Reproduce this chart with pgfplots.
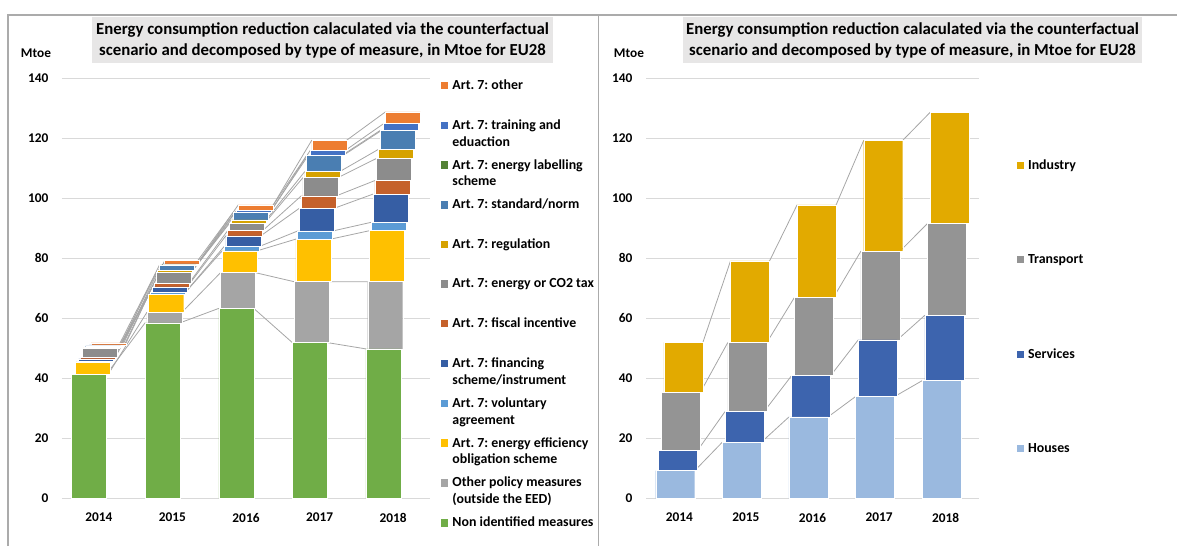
\documentclass[border=0pt]{standalone}
\usepackage{pgfplots}
\pgfplotsset{compat=1.18}
\usepackage{pgfplotstable}
\usepackage{fontspec}
\setmainfont{Carlito}

\definecolor{s0}{HTML}{70AD47}
\definecolor{s1}{HTML}{A5A5A5}
\definecolor{s2}{HTML}{FFC000}
\definecolor{s3}{HTML}{5B9BD5}
\definecolor{s4}{HTML}{365EA4}
\definecolor{s5}{HTML}{C5612B}
\definecolor{s6}{HTML}{8C8C8C}
\definecolor{s7}{HTML}{D6A200}
\definecolor{s8}{HTML}{4A7EB2}
\definecolor{s9}{HTML}{548235}
\definecolor{s10}{HTML}{4472C4}
\definecolor{s11}{HTML}{ED7D31}
\definecolor{r0}{HTML}{9AB9DF}
\definecolor{r1}{HTML}{3D64AE}
\definecolor{r2}{HTML}{949494}
\definecolor{r3}{HTML}{E2AA00}
\definecolor{gridc}{HTML}{D9D9D9}
\definecolor{connc}{HTML}{A6A6A6}
\definecolor{framec}{HTML}{ABABAB}
\definecolor{titlebg}{HTML}{E7E6E6}

% left chart: segment values (bottom to top)
\pgfplotstableread{
x s0 s1 s2 s3 s4 s5 s6 s7 s8 s9 s10 s11
0 41.4 0.0 4.0 0.3 0.8 0.5 2.9 0.3 0.6 0.1 0.2 0.7
1 58.5 3.5 6.0 0.7 1.8 1.2 3.5 0.7 1.8 0.1 0.3 1.1
2 63.3 11.9 7.3 1.4 3.6 1.7 2.4 1.2 2.4 0.1 0.6 1.9
3 51.9 20.3 14.2 2.7 7.6 4.1 6.1 2.0 5.3 0.1 1.6 3.5
4 49.8 22.4 17.0 2.8 9.4 4.5 7.4 3.0 6.3 0.1 2.2 3.9
}\leftdata

% left chart: series lines (cumulative tops)
\pgfplotstableread{
pos side c0 c1 c2 c3 c4 c5 c6 c7 c8 c9 c10 c11
0 1 41.4 41.4 45.4 45.7 46.5 47.0 49.9 50.2 50.8 50.9 51.1 51.8
1 -1 58.5 62.0 68.0 68.7 70.5 71.7 75.2 75.9 77.7 77.8 78.1 79.2
nan nan nan nan nan nan nan nan nan nan nan nan nan nan
1 1 58.5 62.0 68.0 68.7 70.5 71.7 75.2 75.9 77.7 77.8 78.1 79.2
2 -1 63.3 75.2 82.5 83.9 87.5 89.2 91.6 92.8 95.2 95.3 95.9 97.8
nan nan nan nan nan nan nan nan nan nan nan nan nan nan
2 1 63.3 75.2 82.5 83.9 87.5 89.2 91.6 92.8 95.2 95.3 95.9 97.8
3 -1 51.9 72.2 86.4 89.1 96.7 100.8 106.9 108.9 114.2 114.3 115.9 119.4
nan nan nan nan nan nan nan nan nan nan nan nan nan nan
3 1 51.9 72.2 86.4 89.1 96.7 100.8 106.9 108.9 114.2 114.3 115.9 119.4
4 -1 49.8 72.2 89.2 92.0 101.4 105.9 113.3 116.3 122.6 122.7 124.9 128.8
}\leftconn

% right chart: segment values
\pgfplotstableread{
x r0 r1 r2 r3
0 9.2 6.7 19.3 16.8
1 18.7 10.2 23.0 27.2
2 27.1 13.8 26.0 30.9
3 33.9 18.9 29.6 36.9
4 39.2 21.8 30.6 37.1
}\rightdata

\pgfplotstableread{
pos side c0 c1 c2 c3
0 1 9.2 15.9 35.2 52.0
1 -1 18.7 28.9 51.9 79.1
nan nan nan nan nan nan
1 1 18.7 28.9 51.9 79.1
2 -1 27.1 40.9 66.9 97.8
nan nan nan nan nan nan
2 1 27.1 40.9 66.9 97.8
3 -1 33.9 52.8 82.4 119.3
nan nan nan nan nan nan
3 1 33.9 52.8 82.4 119.3
4 -1 39.2 61.0 91.6 128.7
}\rightconn

\newcommand{\LL}[1]{\parbox[t]{118pt}{\raggedright #1}}
\newcommand{\RL}[1]{\parbox[t]{70pt}{\raggedright #1}}

\pgfplotsset{
  geomL/.style={scale only axis, at={(46.5pt,35.775pt)}, anchor=south west,
    width=276pt, height=315pt, xmin=-0.5, xmax=4.5, ymin=0, ymax=140},
  geomR/.style={scale only axis, at={(484.5pt,35.775pt)}, anchor=south west,
    width=249.75pt, height=315pt, xmin=-0.5, xmax=4.5, ymin=0, ymax=140},
  ticksty/.style={ytick={0,20,...,140}, xtick={0,...,4},
    xticklabels={2014,2015,2016,2017,2018},
    axis line style={draw=none}, major tick length=0pt,
    ymajorgrids, grid style={gridc, line width=0.75pt},
    /pgf/number format/assume math mode=true,
    tick label style={font=\fontsize{10}{12}\selectfont\bfseries, text=black},
    yticklabel style={anchor=east, inner sep=0pt, xshift=-10pt},
    xticklabel style={anchor=north, inner sep=0pt, yshift=-10.9pt}},
  conn/.style={connc, line width=0.6pt, unbounded coords=jump, forget plot},
  legsty/.style={draw=none, fill=none, inner sep=0pt, outer sep=0pt,
    column sep=3pt, font=\fontsize{10.4}{12.5}\selectfont\bfseries,
    nodes={inner sep=0pt, anchor=base west}},
  sqimg/.style={legend cell align=left,
    legend image code/.code={\fill[##1,draw=none] (0pt,0.2pt) rectangle (5.6pt,5.8pt);}},
}

\begin{document}
\frenchspacing
\begin{tikzpicture}
\begin{scope}[x=0.75pt,y=-0.75pt,yshift=409.5pt]
  \useasboundingbox (0,0) rectangle (1177,546);
  \draw[framec, line width=0.9pt] (8,546) -- (8,15) -- (1177,15);
  \draw[framec, line width=0.9pt] (598.7,15) -- (598.7,546);
  \fill[titlebg] (92,17) rectangle (553,63);
  \fill[titlebg] (683,17) rectangle (1142,63);
  \node[align=center, font=\fontsize{12.6}{16.2}\selectfont\bfseries] at (322.5,40.5)
    {Energy consumption reduction calaculated via the counterfactual\\scenario and decomposed by type of measure, in Mtoe for EU28};
  \node[align=center, font=\fontsize{12.6}{16.2}\selectfont\bfseries] at (912.5,40.5)
    {Energy consumption reduction calaculated via the counterfactual\\scenario and decomposed by type of measure, in Mtoe for EU28};
  \node[font=\fontsize{10}{12}\selectfont\bfseries] at (36,53) {Mtoe};
  \node[font=\fontsize{10}{12}\selectfont\bfseries] at (629,53) {Mtoe};
\end{scope}

% ---- left: grid, ticks, series lines
\begin{axis}[geomL, ticksty]
\pgfplotsinvokeforeach{0,...,11}{
  \addplot[conn] table[x expr={\thisrow{pos}+\thisrow{side}*0.2378-0.1325+#1*0.02409}, y=c#1]{\leftconn};
}
\end{axis}
% ---- left: bars
\begin{axis}[geomL, hide axis, ybar stacked, bar width=26.25pt, reverse legend, sqimg,
  legend style={legsty, row sep=21.05pt, at={(1.0299,0.9964)}, anchor=north west}]
\pgfplotsinvokeforeach{0,...,11}{
  \addplot[fill=s#1, draw=white, line width=0.3pt, bar shift={-7.31pt+#1*1.33pt}] table[x=x, y=s#1]{\leftdata};
}
\legend{{\LL{Non identified measures}},{\LL{Other policy measures\\(outside the EED)}},{\LL{Art. 7: energy efficiency\\obligation scheme}},{\LL{Art. 7: voluntary\\agreement}},{\LL{Art. 7: financing\\scheme/instrument}},{\LL{Art. 7: fiscal incentive}},{\LL{Art. 7: energy or CO2 tax}},{\LL{Art. 7: regulation}},{\LL{Art. 7: standard/norm}},{\LL{Art. 7: energy labelling\\scheme}},{\LL{Art. 7: training and\\eduaction}},{\LL{Art. 7: other}}}
\end{axis}

% ---- right: grid, ticks, series lines
\begin{axis}[geomR, ticksty]
\pgfplotsinvokeforeach{0,...,3}{
  \addplot[conn] table[x expr={\thisrow{pos}+\thisrow{side}*0.293-0.0616+#1*0.041}, y=c#1]{\rightconn};
}
\end{axis}
% ---- right: bars
\begin{axis}[geomR, hide axis, ybar stacked, bar width=29.25pt, reverse legend, sqimg,
  legend style={legsty, row sep=62.3pt, at={(1.1129,0.806)}, anchor=north west}]
\pgfplotsinvokeforeach{0,...,3}{
  \addplot[fill=r#1, draw=white, line width=0.3pt, bar shift={-3.08pt+#1*2.05pt}] table[x=x, y=r#1]{\rightdata};
}
\legend{{\RL{Houses}},{\RL{Services}},{\RL{Transport}},{\RL{Industry}}}
\end{axis}
\end{tikzpicture}
\end{document}
